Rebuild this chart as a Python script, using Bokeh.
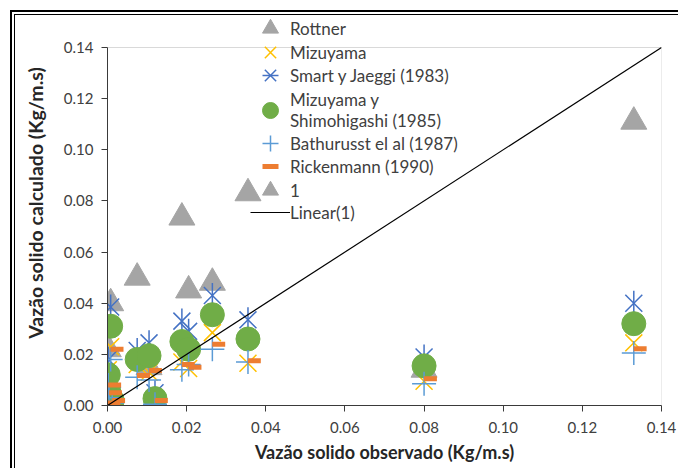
from bokeh.plotting import figure
from bokeh.models import (Legend, LegendItem, FixedTicker, NumeralTickFormatter,
                          Range1d, ColumnDataSource)
from bokeh.transform import dodge
from bokeh.embed import file_html
from bokeh.resources import INLINE
import math

# ---------------- data ----------------
observed = [0.0000, 0.0002, 0.0004, 0.0008, 0.0012, 0.0075, 0.0105, 0.0120,
            0.0188, 0.0205, 0.0265, 0.0355, 0.0800, 0.1330]
rottner = [0.0005, 0.0220, 0.0030, 0.0400, 0.0010, 0.0500, 0.0150, 0.0000,
           0.0735, 0.0450, 0.0480, 0.0830, 0.0140, 0.1110]
mizuyama = [0.0005, 0.0140, 0.0060, 0.0230, 0.0030, 0.0160, 0.0130, 0.0010,
            0.0170, 0.0145, 0.0285, 0.0165, 0.0095, 0.0245]
smart_jaeggi = [0.0010, 0.0180, 0.0070, 0.0385, 0.0040, 0.0215, 0.0245, 0.0050,
                0.0330, 0.0290, 0.0430, 0.0335, 0.0190, 0.0400]
mizuyama_shimohigashi = [0.0010, 0.0120, 0.0050, 0.0310, 0.0020, 0.0180, 0.0195, 0.0027,
                         0.0250, 0.0220, 0.0355, 0.0260, 0.0155, 0.0320]
bathurusst = [0.0005, 0.0080, 0.0030, 0.0180, 0.0010, 0.0110, 0.0100, 0.0005,
              0.0140, 0.0160, 0.0220, 0.0170, 0.0085, 0.0205]
rickenmann = [0.0010, 0.0080, 0.0050, 0.0220, 0.0020, 0.0117, 0.0137, 0.0020,
              0.0160, 0.0150, 0.0240, 0.0175, 0.0105, 0.0222]
one_x = [0.0000, 0.0004]
one_y = [0.0000, 0.0005]
linear_x = [0.0, 0.14]
linear_y = [0.0, 0.14]
ticks = [0.00, 0.02, 0.04, 0.06, 0.08, 0.10, 0.12, 0.14]

labels = ["Rottner", "Mizuyama", "Smart y Jaeggi (1983)",
          "Mizuyama y\nShimohigashi (1985)", "Bathurusst el al (1987)",
          "Rickenmann (1990)", "1", "Linear(1)"]

src = ColumnDataSource(dict(x=observed, rott=rottner, miz=mizuyama, smart=smart_jaeggi,
                            ms=mizuyama_shimohigashi, bath=bathurusst, rick=rickenmann))

FONT = "Lato"
W, H = 678, 468
LEFT, RIGHT, BOTTOM = 107, 17, 63
PLOT_TOP_PX = 47                 # pixel row of the 0.14 line
frame_h = H - BOTTOM             # frame reaches the top so the legend is not clipped
axis_max = ticks[-1]
y_top = axis_max * frame_h / (frame_h - PLOT_TOP_PX)

p = figure(width=W, height=H, output_backend="svg", toolbar_location=None,
           x_range=Range1d(0, axis_max), y_range=Range1d(0, y_top),
           min_border_left=LEFT, min_border_right=RIGHT, min_border_top=0,
           min_border_bottom=BOTTOM)
p.background_fill_alpha = 0
p.border_fill_alpha = 0
p.outline_line_color = None
p.grid.visible = False
# white page with the outer double frame (top and left edges visible in the window)
p.styles = {
    "background-color": "white",
    "background-image": ("linear-gradient(#000,#000), linear-gradient(#000,#000), "
                         "linear-gradient(#000,#000), linear-gradient(#000,#000)"),
    "background-size": "100% 2px, 100% 1px, 2px 100%, 1px 100%",
    "background-position": "10px 10px, 14px 14px, 10px 10px, 14px 14px",
    "background-repeat": "no-repeat",
}

for ax in (p.xaxis[0], p.yaxis[0]):
    ax.ticker = FixedTicker(ticks=ticks)
    ax.formatter = NumeralTickFormatter(format="0.00")
    ax.bounds = (ticks[0], axis_max)
    ax.minor_tick_line_color = None
    ax.major_tick_in = 0
    ax.major_tick_out = 6
    ax.axis_line_color = "#3a3a3a"
    ax.major_tick_line_color = "#3a3a3a"
    ax.major_label_text_font = FONT
    ax.major_label_text_font_size = "15px"
    ax.major_label_text_color = "#404040"
    ax.axis_label_text_font = FONT
    ax.axis_label_text_font_style = "bold"
    ax.axis_label_text_color = "#262626"

p.xaxis.axis_label = "Vazão solido observado (Kg/m.s)"
p.yaxis.axis_label = "Vazão solido calculado (Kg/m.s)"
p.xaxis.axis_label_text_font_size = "18px"
p.yaxis.axis_label_text_font_size = "19.5px"
p.xaxis.major_label_standoff = 10
p.xaxis.axis_label_standoff = 5
p.yaxis.major_label_standoff = 8
p.yaxis.axis_label_standoff = 14

# light-grey plot-area border on top and right
p.segment(x0=[ticks[0], axis_max], y0=[axis_max, ticks[0]],
          x1=[axis_max, axis_max], y1=[axis_max, axis_max],
          line_color="#d9d9d9", line_width=1)

GRAY, YEL, BLUE, GREEN, LBLUE, ORANGE = "#a5a5a5", "#ffc000", "#4472c4", "#70ad47", "#5b9bd5", "#ed7d31"

r_one = p.scatter(one_x, one_y, marker="triangle", size=26, fill_color=GRAY, line_color=GRAY)
r_rott = p.scatter("x", "rott", source=src, marker="triangle", size=26, fill_color=GRAY, line_color=GRAY)
r_miz = p.scatter("x", "miz", source=src, marker="x", size=24, line_color=YEL, line_width=1.5)
r_sx = p.scatter("x", "smart", source=src, marker="x", size=24, line_color=BLUE, line_width=1.5)
r_sv = p.scatter("x", "smart", source=src, marker="dash", angle=math.pi / 2, size=25,
                 line_color=BLUE, line_width=1.5)
r_ms = p.scatter("x", "ms", source=src, marker="circle", size=24, fill_color=GREEN, line_color=GREEN)
r_bath = p.scatter("x", "bath", source=src, marker="cross", size=24, line_color=LBLUE, line_width=1.5)
r_rick = p.scatter(dodge("x", 0.0016), "rick", source=src, marker="dash", size=13,
                   line_color=ORANGE, line_width=5)
r_lin = p.line(linear_x, linear_y, line_color="black", line_width=1.2)

GH, GW = 46, 40
LEG_X = 250 - LEFT
frame_bottom = H - BOTTOM

# one single-item legend per row so that glyphs can be large while rows stay close
entries = [
    (labels[0], [r_rott], 28),
    (labels[1], [r_miz], 52),
    (labels[2], [r_sx, r_sv], 75),
    (labels[3], [r_ms], 110),
    (labels[4], [r_bath], 143),
    (labels[5], [r_rick], 166),
    (labels[6], [r_one], 190),
    (labels[7], [r_lin], 212),
]
for lab, rends, cy in entries:
    p.add_layout(Legend(items=[LegendItem(label=lab, renderers=rends)],
                        location=(LEG_X, frame_bottom - (cy + GH // 2)),
                        padding=0, margin=0, spacing=0,
                        glyph_width=GW, glyph_height=GH, label_height=20, label_standoff=0,
                        background_fill_alpha=0, border_line_alpha=0,
                        label_text_font=FONT, label_text_font_size="17px",
                        label_text_line_height=1.35, label_text_color="#404040"))

open("out.html", "w").write(file_html(p, INLINE))
